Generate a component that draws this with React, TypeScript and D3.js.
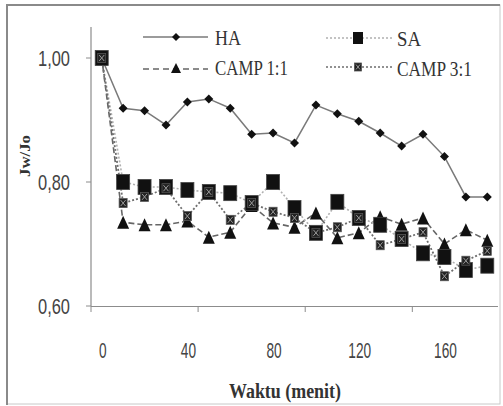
import * as d3 from "d3";

// waktu (menit)
const minutes = [0, 10, 20, 30, 40, 50, 60, 70, 80, 90, 100, 110, 120, 130, 140, 150, 160, 170, 180];

// Jw/Jo per series
const haValues = [1.0, 0.919, 0.915, 0.892, 0.929, 0.934, 0.919, 0.877, 0.879, 0.863, 0.924, 0.91, 0.898, 0.879, 0.858, 0.877, 0.841, 0.776, 0.776];
const saValues = [1.0, 0.8, 0.792, 0.792, 0.787, 0.784, 0.782, 0.766, 0.8, 0.758, 0.718, 0.768, 0.742, 0.731, 0.708, 0.685, 0.679, 0.658, 0.665];
const camp11Values = [1.0, 0.735, 0.731, 0.731, 0.737, 0.711, 0.719, 0.762, 0.734, 0.727, 0.75, 0.71, 0.718, 0.744, 0.732, 0.742, 0.7, 0.723, 0.706];
const camp31Values = [1.0, 0.766, 0.776, 0.79, 0.745, 0.784, 0.739, 0.766, 0.752, 0.742, 0.718, 0.727, 0.742, 0.698, 0.708, 0.719, 0.648, 0.673, 0.689];

const xLabels = [0, 40, 80, 120, 160];
const xTickMarks = [-5, 45, 95, 145];
const yTicks = [0.6, 0.8, 1.0];

const serif = "'Liberation Serif', 'Times New Roman', serif";
const sans = "'Liberation Sans Narrow', 'Liberation Sans', Arial, sans-serif";

const x = d3.scaleLinear().domain([-5, 185]).range([91, 498]);
const y = d3.scaleLinear().domain([0.6, 1.05]).range([306, 27]);

const toPts = (vals: number[]) => minutes.map((m, i) => [m, vals[i]] as [number, number]);
const line = d3.line<[number, number]>().x(d => x(d[0])).y(d => y(d[1]));

const diamond = (cx: number, cy: number, r: number) =>
  `M${cx},${cy - r}L${cx + r},${cy}L${cx},${cy + r}L${cx - r},${cy}Z`;
const triangle = (cx: number, cy: number, w: number, h: number) =>
  `M${cx},${cy - h / 2}L${cx + w / 2},${cy + h / 2}L${cx - w / 2},${cy + h / 2}Z`;

function XSquare({ cx, cy, w, h }: { cx: number; cy: number; w: number; h: number }) {
  return (
    <g>
      <rect x={cx - w / 2} y={cy - h / 2} width={w} height={h} fill="#222" stroke="#555" strokeWidth={0.8} />
      <path
        d={`M${cx - w / 2 + 1.5},${cy - h / 2 + 1.5}L${cx + w / 2 - 1.5},${cy + h / 2 - 1.5}M${cx + w / 2 - 1.5},${cy - h / 2 + 1.5}L${cx - w / 2 + 1.5},${cy + h / 2 - 1.5}`}
        stroke="#9a9a9a"
        strokeWidth={1}
      />
    </g>
  );
}

export default function App() {
  const ha = toPts(haValues);
  const sa = toPts(saValues);
  const c11 = toPts(camp11Values);
  const c31 = toPts(camp31Values);

  return (
    <svg width={503} height={406} style={{ position: "absolute", left: 0, top: 0, background: "#fff" }}>
      {/* frame */}
      <rect x={7} y={5} width={493} height={399} fill="#fff" stroke="#c8c8c8" strokeWidth={1} />
      <path d="M7,405V5H500" fill="none" stroke="#8a8a8a" strokeWidth={2} />

      {/* axes */}
      <line x1={91} x2={91} y1={27} y2={306} stroke="#8c8c8c" strokeWidth={1.2} />
      <line x1={91} x2={498} y1={306.5} y2={306.5} stroke="#8c8c8c" strokeWidth={1.2} />
      {yTicks.map(t => (
        <g key={t}>
          <line x1={86} x2={91} y1={y(t)} y2={y(t)} stroke="#8c8c8c" />
          <text x={70} y={y(t) + 8} textAnchor="end" fontFamily={sans} fontSize={22} fill="#444"
            textLength={32} lengthAdjust="spacingAndGlyphs">
            {t.toFixed(2).replace(".", ",")}
          </text>
        </g>
      ))}
      {xTickMarks.map(t => (
        <line key={t} x1={x(t)} x2={x(t)} y1={306} y2={312} stroke="#8c8c8c" />
      ))}
      {xLabels.map(t => {
        const s = String(t);
        return (
          <text key={t} x={x(t) + 1} y={358} textAnchor="middle" fontFamily={sans} fontSize={22} fill="#444"
            textLength={s.length * 7.6} lengthAdjust="spacingAndGlyphs">
            {s}
          </text>
        );
      })}

      {/* axis titles */}
      <text x={285} y={398} textAnchor="middle" fontFamily={serif} fontWeight="bold" fontSize={20} fill="#333"
        textLength={112} lengthAdjust="spacingAndGlyphs">
        Waktu (menit)
      </text>
      <text transform="translate(30,156) rotate(-90)" textAnchor="middle" fontFamily={serif} fontWeight="bold"
        fontSize={15} fill="#333" textLength={42} lengthAdjust="spacingAndGlyphs">
        Jw/Jo
      </text>

      {/* series lines */}
      <path d={line(ha) ?? ""} fill="none" stroke="#7a7a7a" strokeWidth={1.5} />
      <path d={line(c11) ?? ""} fill="none" stroke="#666" strokeWidth={1.6} strokeDasharray="6,3" />
      <path d={line(sa) ?? ""} fill="none" stroke="#b0b0b0" strokeWidth={1.6} strokeDasharray="2,2" />
      <path d={line(c31) ?? ""} fill="none" stroke="#6e6e6e" strokeWidth={1.8} strokeDasharray="2,2" />

      {/* markers */}
      {ha.map(d => (
        <path key={"ha" + d[0]} d={diamond(x(d[0]), y(d[1]), 4.5)} fill="#111" />
      ))}
      {c11.map(d => (
        <path key={"c11" + d[0]} d={triangle(x(d[0]), y(d[1]), 12, 13)} fill="#111" />
      ))}
      {sa.map(d => (
        <rect key={"sa" + d[0]} x={x(d[0]) - 6.5} y={y(d[1]) - 7.5} width={13} height={15} fill="#111" stroke="#444" strokeWidth={0.8} />
      ))}
      {c31.map(d => (
        <XSquare key={"c31" + d[0]} cx={x(d[0])} cy={y(d[1])} w={8} h={9} />
      ))}

      {/* legend */}
      <line x1={143} x2={208} y1={37} y2={37} stroke="#7a7a7a" strokeWidth={1.5} />
      <path d={diamond(176, 37, 4)} fill="#111" />
      <text x={215} y={45} fontFamily={serif} fontSize={21} fill="#333" textLength={26} lengthAdjust="spacingAndGlyphs">HA</text>

      <line x1={143} x2={208} y1={69} y2={69} stroke="#666" strokeWidth={1.6} strokeDasharray="6,4" />
      <path d={triangle(176, 68, 10, 10)} fill="#111" />
      <text x={215} y={75} fontFamily={serif} fontSize={21} fill="#333" textLength={73} lengthAdjust="spacingAndGlyphs">CAMP 1:1</text>

      <line x1={326} x2={392} y1={38} y2={38} stroke="#b0b0b0" strokeWidth={1.5} strokeDasharray="2,2" />
      <rect x={353} y={32} width={10} height={12} fill="#111" />
      <text x={397} y={46} fontFamily={serif} fontSize={21} fill="#333" textLength={24} lengthAdjust="spacingAndGlyphs">SA</text>

      <line x1={326} x2={392} y1={67} y2={67} stroke="#6e6e6e" strokeWidth={1.6} strokeDasharray="2,2" />
      <XSquare cx={358} cy={67} w={7} h={8} />
      <text x={397} y={76} fontFamily={serif} fontSize={21} fill="#333" textLength={75} lengthAdjust="spacingAndGlyphs">CAMP 3:1</text>
    </svg>
  );
}
